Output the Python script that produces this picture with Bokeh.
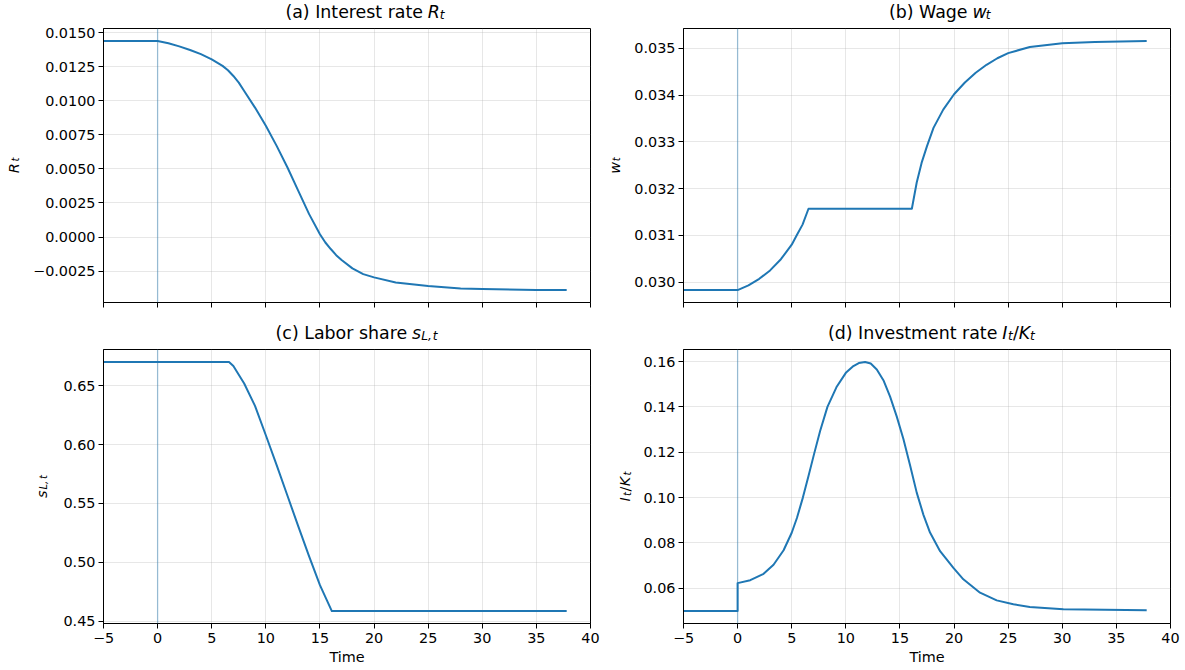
from bokeh.plotting import figure
from bokeh.layouts import row, column
from bokeh.models import Range1d, CustomJSTickFormatter, Span
from bokeh.core.properties import value
from bokeh.embed import file_html
from bokeh.resources import INLINE

# ---------------- data ----------------
x_ticks = [-5, 0, 5, 10, 15, 20, 25, 30, 35, 40]

t_rate = [-5, 0, 1, 2, 3, 4, 5, 6, 6.5, 7, 7.5, 8, 9, 10, 11, 12, 13, 14, 15,
          15.5, 16, 16.5, 17, 18, 19, 20, 22, 25, 28, 30, 35, 37.8]
rate = [0.01439, 0.01439, 0.01422, 0.01399, 0.01373, 0.01342, 0.01304, 0.01256,
        0.01224, 0.01182, 0.01133, 0.01072, 0.00950, 0.00816, 0.00669, 0.00510,
        0.00339, 0.00168, 0.00021, -0.00040, -0.00088, -0.00133, -0.00169,
        -0.00230, -0.00272, -0.00296, -0.00333, -0.00360, -0.00377, -0.00382,
        -0.00388, -0.00389]
rate_ticks = [-0.0025, 0.0, 0.0025, 0.0050, 0.0075, 0.0100, 0.0125, 0.0150]

t_wage = [-5, 0, 1, 2, 3, 4, 5, 5.5, 6, 6.55, 16.1, 16.55, 17, 17.5, 18.1, 19,
          20, 21, 22, 23, 24, 25, 27, 30, 33, 37.8]
wage = [0.02983, 0.02983, 0.02993, 0.03007, 0.03025, 0.03049, 0.03080, 0.03102,
        0.03123, 0.03157, 0.03157, 0.03213, 0.03255, 0.03291, 0.03330, 0.03369,
        0.03402, 0.03427, 0.03448, 0.03465, 0.03479, 0.03490, 0.03503, 0.03511,
        0.03514, 0.03516]
wage_ticks = [0.030, 0.031, 0.032, 0.033, 0.034, 0.035]

t_share = [-5, 0, 6.6, 7, 8, 9, 10, 11, 12, 13, 14, 15, 16.1, 37.8]
share = [0.6703, 0.6703, 0.6703, 0.6669, 0.6520, 0.6330, 0.6080, 0.5825, 0.5565,
         0.5305, 0.5050, 0.4805, 0.4585, 0.4585]
share_ticks = [0.45, 0.50, 0.55, 0.60, 0.65]

t_inv = [-5, 0, 0, 1.17, 2.4, 3.32, 4.25, 5.0, 5.48, 6.03, 6.55, 7.08, 7.63, 8.3,
         9.17, 10.0, 10.7, 11.2, 11.78, 12.3, 12.86, 13.5, 14.09, 14.7, 15.32,
         15.94, 16.55, 17.17, 17.78, 18.71, 19.94, 20.86, 22.4, 23.94, 25.48,
         27.0, 30.1, 37.8]
inv = [0.0500, 0.0500, 0.0623, 0.0636, 0.0664, 0.0704, 0.0768, 0.0845, 0.0910,
       0.1000, 0.1095, 0.1195, 0.1295, 0.1400, 0.1490, 0.1550, 0.1580, 0.1593,
       0.1598, 0.1591, 0.1565, 0.1515, 0.1445, 0.1358, 0.1258, 0.1142, 0.1022,
       0.0924, 0.0846, 0.0764, 0.0690, 0.0640, 0.0581, 0.0547, 0.0530, 0.0518,
       0.0508, 0.0503]
inv_ticks = [0.06, 0.08, 0.10, 0.12, 0.14, 0.16]

# ---------------- styling helpers ----------------
FONT = "DejaVu Sans"
BLUE = "#1f77b4"
TICK_PX = 14.4
TITLE_PX = 17.4
SUB = 0.16
FRAME_W, FRAME_H = 487, 274

# DejaVu Sans advance widths (units per em = 2048)
ADV = {' ': 651, '(': 799, ')': 799, ',': 651, '.': 651, '/': 690,
       'a': 1255, 'b': 1300, 'c': 1126, 'd': 1300, 'e': 1260, 'g': 1300,
       'h': 1298, 'i': 569, 'k': 1186, 'l': 569, 'm': 1995, 'n': 1298,
       'o': 1253, 'r': 842, 's': 1067, 't': 803, 'v': 1212, 'w': 1675,
       'I': 604, 'K': 1343, 'L': 1145, 'R': 1423, 'W': 2025}


def seg_w(txt, size):
    return sum(ADV.get(c, 1200) for c in txt) / 2048.0 * size


def blank(width, height):
    p = figure(width=width, height=height, title=None,
               x_range=Range1d(0, width), y_range=Range1d(0, height),
               x_axis_location=None, y_axis_location=None,
               output_backend="svg", toolbar_location=None,
               min_border=0, min_border_left=0, min_border_right=0,
               min_border_top=0, min_border_bottom=0,
               background_fill_color="white", border_fill_color="white",
               outline_line_color=None)
    p.grid.visible = False
    return p


def put(p, x, y, t, size, italic, angle=0.0, align="left"):
    p.text(x=[x], y=[y], text=[t], angle=angle, text_align=align,
           text_baseline="alphabetic", text_font=value(FONT),
           text_font_size=f"{size:.2f}px",
           text_font_style="italic" if italic else "normal",
           text_color="black")


def math_width(segs, size):
    return sum(seg_w(t, size * sc) + ex * size for (t, it, sc, dr, ex) in segs)


def place_math(p, start, base, segs, size, angle=0.0):
    """segs: (text, italic, scale, drop_em, extra_em); start along text dir"""
    pos = start
    for (t, it, sc, dr, ex) in segs:
        if angle == 0.0:
            put(p, pos, base - dr * size, t, size * sc, it)
        else:
            put(p, base + dr * size, pos, t, size * sc, it, angle)
        pos += seg_w(t, size * sc) + ex * size


def add_title(p, cx, base, plain, segs, size):
    wp = seg_w(plain, size)
    gap = seg_w(" ", size)
    total = wp + gap + math_width(segs, size)
    junction = cx - total / 2.0 + wp
    put(p, junction, base, plain, size, False, align="right")
    place_math(p, junction + gap, base, segs, size)


def fmt(decimals):
    return CustomJSTickFormatter(
        code=f"return tick.toFixed({decimals}).replace('-', '\u2212');")


def make(t, v, ticks, dec, bl, br, bt, bb, bottom_labels):
    lo, hi = min(v), max(v)
    pad = 0.05 * (hi - lo)
    p = figure(width=bl + FRAME_W + br, height=bt + FRAME_H + bb, title=None,
               x_range=Range1d(-5, 40), y_range=Range1d(lo - pad, hi + pad),
               output_backend="svg", toolbar_location=None,
               min_border_left=bl, min_border_right=br,
               min_border_top=bt, min_border_bottom=bb,
               background_fill_color="white", border_fill_color="white")
    p.xaxis.ticker = x_ticks
    p.yaxis.ticker = ticks
    p.yaxis.formatter = fmt(dec)
    for ax in (p.xaxis, p.yaxis):
        ax.major_label_text_font = FONT
        ax.major_label_text_font_size = f"{TICK_PX}px"
        ax.major_label_text_color = "black"
        ax.major_label_standoff = 4
        ax.axis_line_color = "black"
        ax.axis_line_width = 1
        ax.major_tick_line_color = "black"
        ax.major_tick_line_width = 1
        ax.major_tick_out = 5
        ax.major_tick_in = 0
        ax.minor_tick_line_color = None
    p.yaxis.major_label_standoff = 3
    if bottom_labels:
        p.xaxis.formatter = fmt(0)
        p.xaxis.axis_label = "Time"
        p.xaxis.axis_label_text_font = FONT
        p.xaxis.axis_label_text_font_size = f"{TICK_PX}px"
        p.xaxis.axis_label_text_font_style = "normal"
        p.xaxis.axis_label_text_color = "black"
        p.xaxis.axis_label_standoff = 3
    else:
        p.xaxis.formatter = CustomJSTickFormatter(code="return '';")
        p.xaxis.major_label_text_font_size = "0px"
        p.xaxis.major_label_standoff = 0
    p.grid.grid_line_color = "#b0b0b0"
    p.grid.grid_line_alpha = 0.3
    p.grid.grid_line_width = 1
    p.outline_line_color = "black"
    p.outline_line_width = 1
    p.add_layout(Span(location=0, dimension="height", line_color=BLUE,
                      line_alpha=0.4, line_width=1.3))
    p.line(t, v, line_color=BLUE, line_width=2, line_join="round")
    return p


def panel(main, bl, title_h, title_base, plain, segs, strip_w, strip_x, bb):
    ttl = blank(main.width, title_h)
    add_title(ttl, bl + FRAME_W / 2.0, title_base, plain, segs, TITLE_PX)
    strip = blank(strip_w, title_h + main.height)
    mid = bb + FRAME_H / 2.0
    place_math(strip, mid - math_width(segs, TICK_PX) / 2.0, strip_x, segs,
               TICK_PX, 1.5707963267948966)
    return strip, column(ttl, main)


R_SEGS = [("R", True, 1, 0, 0.12), ("t", True, 0.7, SUB, 0)]
W_SEGS = [("w", True, 1, 0, 0.05), ("t", True, 0.7, SUB, 0)]
S_SEGS = [("s", True, 1, 0, 0.06), ("L,", True, 0.7, SUB, 0.12),
          ("t", True, 0.7, SUB, 0)]
I_SEGS = [("I", True, 1, 0, 0.08), ("t", True, 0.7, SUB, 0.04),
          ("/", False, 1, 0, 0.03), ("K", True, 1, 0, 0.08),
          ("t", True, 0.7, SUB, 0)]

# top row: title strip 25 px, plot top border 3 px (frame starts at y=28)
pa = make(t_rate, rate, rate_ticks, 4, 75, 10, 3, 15, False)
pb = make(t_wage, wage, wage_ticks, 3, 53, 15, 3, 15, False)
# bottom row: title strip 32 px, plot top border 0 (frame starts at y=349)
pc = make(t_share, share, share_ticks, 2, 45, 10, 0, 47, True)
pd = make(t_inv, inv, inv_ticks, 2, 45, 15, 0, 47, True)

sa, ca = panel(pa, 75, 25, 13.2, "(a) Interest rate", R_SEGS, 28, 13, 15)
sb, cb = panel(pb, 53, 25, 13.2, "(b) Wage", W_SEGS, 30, 14, 15)
sc, cc = panel(pc, 45, 32, 16.2, "(c) Labor share", S_SEGS, 58, 41, 47)
sd, cd = panel(pd, 45, 32, 16.2, "(d) Investment rate", I_SEGS, 38, 24.5, 47)

layout = column(row(sa, ca, sb, cb), row(sc, cc, sd, cd))
open("out.html", "w").write(file_html(layout, INLINE))
